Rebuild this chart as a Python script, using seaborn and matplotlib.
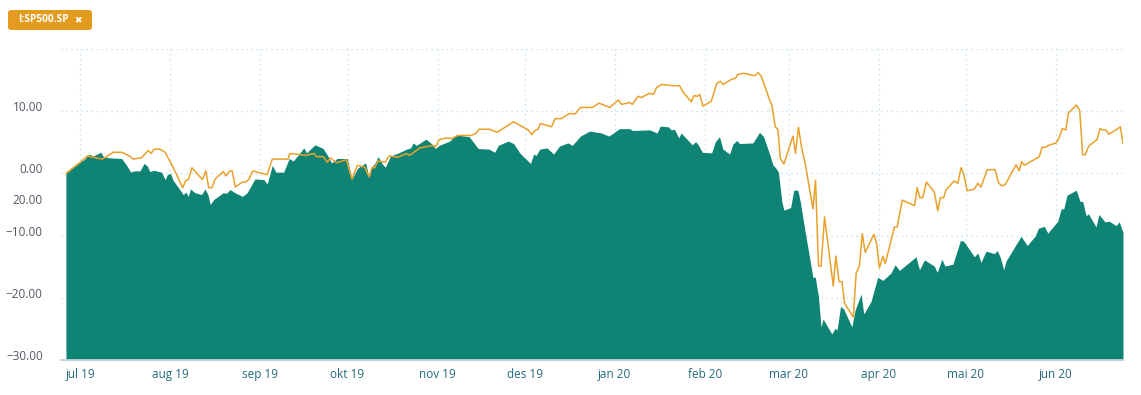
import pandas as pd
import seaborn as sns
import matplotlib.pyplot as plt
from matplotlib.patches import FancyBboxPatch
from matplotlib.transforms import IdentityTransform

start = pd.Timestamp("2019-07-01")

# fund (filled area) - days after 1 jul 2019, % change
fund_days = [-5, -3.6, -1.3, 1.2, 3.0, 4.4, 7.0, 7.9, 10, 14.2, 15.9, 17.3, 18.4, 20.5, 21.9, 23, 23.9, 25.3,
             27.9, 29.2, 29.9, 31, 31.9, 34.5, 35.4, 36.3, 37.1, 37.9, 39.4, 41.7, 42.9, 43.9, 44.7, 45.9,
             49.2, 50.3, 51.5, 53.2, 55.8, 57.4, 60.1, 63.2, 64.3, 66.1, 67.3, 70.0, 71.9, 73.3, 75.8, 76.9,
             77.9, 79.2, 80.8, 83.6, 85.1, 86.5, 88.4, 91.9, 93.5, 95.4, 98.2, 99.4, 100.2, 101.5, 102.5,
             104, 105, 106.8, 109.1, 112.3, 113.7, 114.6, 115.7, 119, 120.9, 122.2, 123.5, 127.2, 129.3,
             133.9, 137, 140.7, 142.7, 143.9, 147.3, 149.2, 151.3, 155, 156.1, 157, 158.2, 160.7, 163, 165,
             167.9, 169.4, 172.2, 175.4, 179.4, 182, 185.7, 189.2, 190.1, 196.1, 198.6, 199.7, 202.4, 203.5,
             204.6, 206.1, 206.9, 210.7, 211.9, 212.8, 214.2, 217.4, 218.7, 220.1, 221.3, 223.6, 224.7,
             226.1, 227, 231.6, 233.9, 235.3, 237.3, 238.5, 239.6, 240.4, 241.6, 242.3, 244.6, 245.7, 247.1,
             248, 249.4, 252.3, 253.1, 254.2, 255.1, 255.8, 257.4, 258.8, 259.9, 260.6, 261.8, 262.9, 265.7,
             266.8, 268.9, 269.8, 272.3, 274.6, 276.4, 279.2, 280.6, 282.1, 287.8, 289, 290.7, 294.1, 295.1,
             296.7, 297.8, 300.5, 303.1, 304.2, 307.9, 309.1, 310.2, 311.9, 314.8, 315.8, 316.9, 318.0,
             318.8, 324, 326.1, 328.8, 330, 332, 333.2, 336.6, 337.8, 338.7, 339.8, 343, 344.3, 345.2, 346.4,
             347.2, 349.8, 350.8, 352.9, 354.4, 356.7, 357.8, 359.1]
fund_vals = [0, 0.5, 1.6, 2.2, 3.1, 2.8, 3.4, 2.7, 2.5, 2.4, 1.3, 0.2, 0.4, 0.4, 1.6, 1.2, 0.3, 0.5,
             0.2, -1.0, -0.2, 0, -1.1, -2.8, -3.4, -3.0, -3.7, -2.5, -3.1, -3.4, -2.5, -3.4, -5.0, -4.2,
             -3.1, -3.2, -2.6, -3.1, -3.7, -3.1, -0.9, -1.0, -1.7, 1.3, 0.2, 0.2, 2.4, 2.0, 3.4, 4.1,
             3.3, 3.9, 4.6, 4.0, 2.9, 1.7, 2.4, 2.4, -0.9, 0.8, 1.7, -0.7, 0.9, 1.7, 2.7,
             1.5, 1.0, 2.8, 3.2, 3.9, 4.1, 4.9, 4.5, 5.5, 4.8, 4.0, 4.5, 5.2, 6.2,
             5.9, 4.0, 3.9, 3.4, 4.5, 5.2, 4.8, 3.3, 1.6, 3.1, 2.9, 3.9, 4.1, 3.1, 4.4,
             4.9, 4.5, 6.0, 6.8, 6.5, 6.0, 7.2, 7.2, 6.9, 7.0, 6.5, 7.6, 7.5, 7.0,
             7.1, 5.7, 6.5, 4.6, 5.1, 4.6, 3.4, 3.3, 5.1, 5.9, 3.9, 3.1, 4.7,
             5.3, 4.8, 4.9, 6.6, 5.9, 3.2, 1.4, 0.8, 0.2, -4.6, -5.9, -5.5, -2.7, -2.7,
             -4.7, -8.8, -16.7, -16.7, -19.8, -24.7, -23.4, -24.7, -25.8, -24.9, -25.2, -21.4, -21.8, -24.7,
             -22.0, -19.4, -22.6, -20.6, -16.7, -17.2, -16.0, -14.7, -15.6, -13.4, -15.5, -13.9, -14.9, -15.9,
             -13.8, -14.9, -14.6, -10.8, -10.9, -13.4, -12.8, -14.3, -12.5, -12.9, -12.4, -13.6, -15.5,
             -14.1, -10.1, -11.6, -10.1, -8.8, -8.5, -9.6, -7.7, -5.7, -5.7, -3.5, -2.7, -4.5, -4.5, -6.8,
             -6.5, -8.6, -6.6, -7.8, -7.7, -8.4, -7.8, -9.5]

# I:SP500.SP (line)
index_days = [-5, -2.5, 0, 2.3, 7.6, 11.3, 14.2, 16.5, 18.2, 21, 23.4, 24.3, 25.4, 27.4, 29.2, 32.5, 35.2,
              36.3, 37.2, 38.4, 42, 43.2, 44.2, 45.3, 46.4, 49.2, 50.1, 51.5, 52.3, 53.3, 55.8, 57, 58.1,
              59.3, 61.8, 64.3, 66.1, 69.2, 71.5, 72.1, 74.4, 77.6, 80.4, 81.3, 83.6, 85.1, 86.1, 88.2,
              91.6, 93.5, 95.4, 97.9, 99.4, 100.5, 101.3, 102.5, 105, 106.3, 109.4, 112.3, 113.4, 116.9,
              121.5, 122.4, 123.5, 126, 127.8, 130.1, 134.6, 136.4, 137.3, 141, 143.5, 149.2, 154.2, 155.5,
              156.5, 157.6, 158.4, 162.3, 163.5, 165.6, 168.3, 170.5, 172.2, 176.3, 178.6, 182.3, 185.3,
              186.4, 189.2, 190.1, 192.1, 193.2, 196.1, 197.4, 198.4, 200.3, 204.1, 206.4, 207.5, 210.4,
              211.3, 212.5, 213.3, 214.4, 217.3, 219.2, 220.4, 221.3, 224.2, 225.6, 226.4, 228.4, 232.2,
              233.4, 234.5, 235.6, 237.3, 238.2, 239.3, 240.2, 241.1, 242.3, 245.4, 246.3, 247.3, 248.5,
              249.6, 252.3, 253.2, 254.2, 255.1, 256.3, 259.3, 260.2, 261.3, 262.3, 263.2, 266.2, 267.2,
              268.3, 269.3, 270.3, 273.3, 274.2, 275.2, 276.4, 277.2, 280.4, 281.3, 283.1, 287.3, 288.2,
              289.1, 290.1, 291.4, 294.1, 295.3, 296.2, 297.3, 298.2, 301, 302.2, 303.3, 304.2, 305.4,
              307.9, 309.1, 310.2, 312.3, 315, 316.2, 317.3, 318.5, 322.3, 323.3, 324.2, 325.1, 330.3,
              331.2, 332.4, 333.4, 336, 337.1, 338.2, 339.4, 340.3, 343, 344.2, 345.2, 346.1, 347.3, 350.1,
              351.2, 352.1, 353.2, 354.2, 356.7, 358.2, 359.1]
index_vals = [0, 0.9, 1.8, 2.8, 2.3, 3.4, 3.4, 2.9, 2.3, 2.5, 3.7, 3.2, 3.9, 3.9, 3.4, 0.4, -2.3,
              -1.1, -1.0, 0.9, -1.0, 0.4, -2.3, -2.3, -0.9, 0.3, -0.4, 0.4, 0.4, -2.2, -1.4, -1.4, -0.9,
              0.4, 0.1, -0.2, 2.3, 2.3, 2.3, 3.2, 3.1, 2.9, 3.2, 2.7, 2.7, 1.8, 2.5, 1.7,
              2.2, -0.9, 1.3, 1.0, -0.5, 1.0, 0.9, 2.0, 1.8, 2.8, 2.6, 3.2, 2.9, 4.1,
              4.5, 4.3, 5.4, 5.7, 5.6, 6.1, 6.1, 6.5, 7.1, 7.1, 6.6, 8.3, 7.0, 6.2,
              6.9, 7.1, 8.0, 7.5, 8.8, 8.8, 9.6, 9.6, 10.6, 10.6, 11.3, 10.6, 11.8,
              11.1, 11.4, 11.1, 12.4, 12.2, 12.9, 12.7, 13.8, 14.3, 14.1, 14.1, 13.1, 11.5,
              12.5, 12.4, 12.7, 10.8, 11.6, 14.5, 14.8, 14.3, 15.1, 15.3, 15.9, 16.1, 15.7,
              16.2, 15.6, 14.2, 11.9, 10.9, 7.5, 7.1, 2.4, 1.5, 6.0, 3.2, 7.4, 3.9,
              1.7, -5.7, -1.1, -14.9, -14.9, -7.0, -18.1, -13.3, -17.4, -17.4, -20.9, -23.1, -16.0,
              -14.9, -9.7, -12.7, -9.8, -11.2, -15.2, -13.3, -14.5, -8.6, -8.6, -4.3, -5.2, -2.3,
              -3.9, -3.9, -1.4, -3.0, -6.0, -3.9, -3.9, -2.6, -1.2, -1.6, 0.9, 0, -2.8,
              -2.5, -1.6, -2.2, 0.6, 0.6, -1.5, -2.0, -1.8, 1.4, 0.4, 1.9, 1.3, 2.7,
              4.2, 4.2, 4.5, 4.9, 5.7, 7.2, 7.0, 9.7, 11.0, 10.1, 3.0, 3.0, 4.4, 5.4,
              7.2, 7.0, 7.0, 6.3, 7.0, 7.5, 4.8]

month_labels = ["jul 19", "aug 19", "sep 19", "okt 19", "nov 19", "des 19",
                "jan 20", "feb 20", "mar 20", "apr 20", "mai 20", "jun 20"]
y_ticks = [20, 10, 0, -10, -20, -30]
y_labels = ["", "10.00", "0.00", "\u221210.00", "\u221220.00", "\u221230.00"]

sns.set_theme(style="white")
plt.rcParams['font.family'] = ['Open Sans', 'DejaVu Sans']

fund = pd.DataFrame({"date": start + pd.to_timedelta(fund_days, unit="D"), "value": fund_vals})
spx = pd.DataFrame({"date": start + pd.to_timedelta(index_days, unit="D"), "value": index_vals})

fig = plt.figure(figsize=(11.41, 3.95), dpi=100)
ax = fig.add_axes([61 / 1141, 35 / 395, (1123 - 61) / 1141, 311 / 395])

ax.fill_between(fund["date"], fund["value"], -30, color="#0f8475", lw=0, zorder=2)
sns.lineplot(data=spx, x="date", y="value", color="#e9a12b", lw=1.1, ax=ax, zorder=3)

ax.set_ylim(-30, 20)
ax.set_xlim(start + pd.Timedelta(days=-6.7), fund["date"].iloc[-1])
ax.set_xlabel("")
ax.set_ylabel("")

ticks = pd.date_range("2019-07-01", periods=12, freq="MS")
ax.set_xticks(ticks)
ax.set_xticklabels(month_labels, fontsize=8.5, color="#246a7e")
ax.set_yticks(y_ticks)
ax.set_yticklabels(y_labels, fontsize=8.5, color="#555866")
for lab in ax.get_yticklabels():
    lab.set_verticalalignment("baseline")
ax.tick_params(axis="y", length=0, pad=13.2)
ax.tick_params(axis="x", length=0, pad=6)

# stray 20.00 label the original chart draws in the middle of the axis
ax.annotate("20.00", xy=(0, -4.85), xycoords=("axes fraction", "data"), xytext=(-18.3, 0),
            textcoords="offset pixels", ha="right", va="baseline", fontsize=8.5, color="#555866")

ax.set_axisbelow(True)
ax.grid(True, color="#bcdcf0", linestyle=(0, (1, 3)), lw=0.9)
for s in ["left", "right", "top"]:
    ax.spines[s].set_visible(False)
ax.spines["bottom"].set_color("#c3d2de")
ax.spines["bottom"].set_linewidth(1.3)

# series badge
badge = FancyBboxPatch((8, 365), 84, 20, boxstyle="round,pad=0,rounding_size=3",
                       transform=IdentityTransform(), fc="#e39c20", ec="none")
fig.patches.append(badge)
fig.text(18.5 / 1141, 375 / 395, "I:SP500.SP", ha="left", va="center", color="white",
         fontsize=7.3, fontweight="bold")
fig.text(77.5 / 1141, 374.5 / 395, "\u2716", ha="center", va="center", color="white",
         fontsize=6.5, family=["DejaVu Sans"])

fig.savefig("out.png", dpi=100)
